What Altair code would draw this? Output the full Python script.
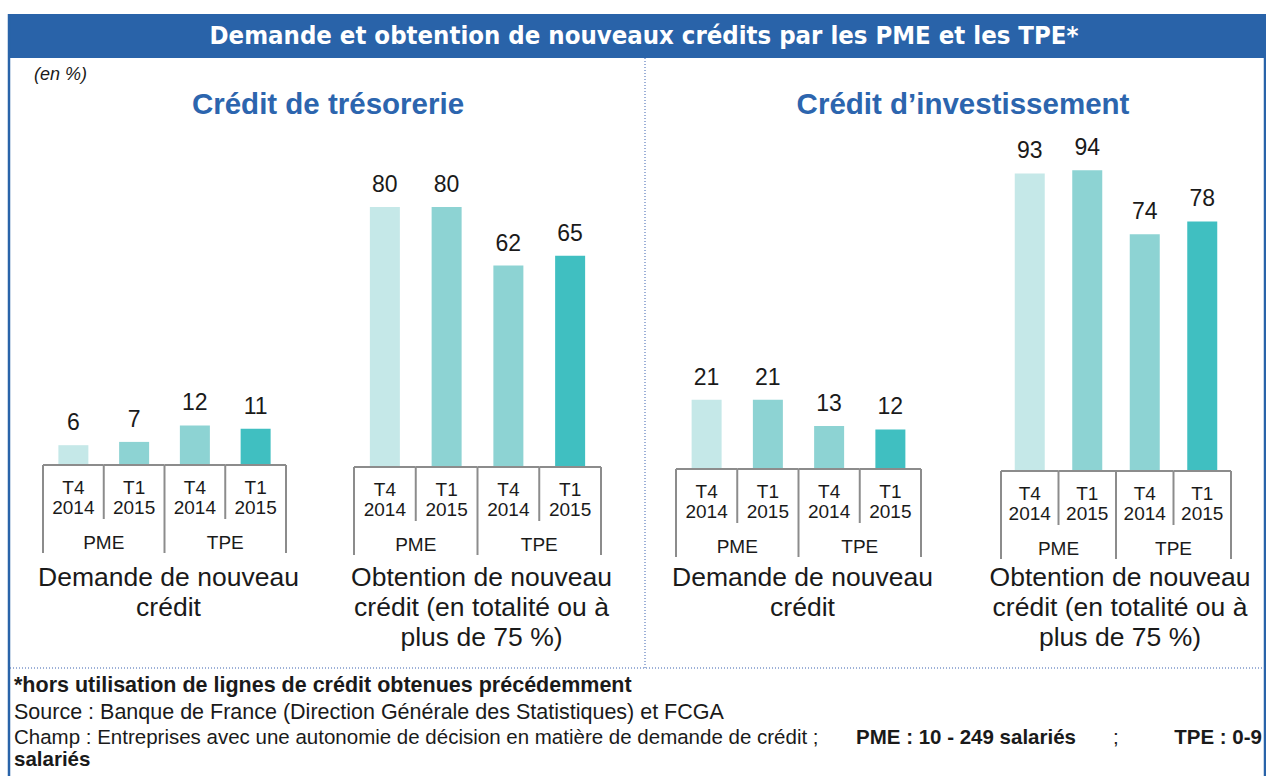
import altair as alt
import pandas as pd

# ---------------- data ----------------
sizes = ["PME", "PME", "TPE", "TPE"]
quarters = ["T4", "T1", "T4", "T1"]
years = ["2014", "2015", "2014", "2015"]

treso_demande = [6, 7, 12, 11]
treso_obtention = [80, 80, 62, 65]
invest_demande = [21, 21, 13, 12]
invest_obtention = [93, 94, 74, 78]

caption_demande = "Demande de nouveau\ncrédit"
caption_obtention = "Obtention de nouveau\ncrédit (en totalité ou à\nplus de 75 %)"

main_title = "Demande et obtention de nouveaux crédits par les PME et les TPE*"
panel_titles = ["Crédit de trésorerie", "Crédit d\u2019investissement"]
unit_note = "(en %)"
foot_bold = "*hors utilisation de lignes de crédit obtenues précédemment"
foot_source = "Source : Banque de France (Direction Générale des Statistiques) et FCGA"
foot_champ_1 = "Champ : Entreprises avec une autonomie de décision en matière de demande de crédit ;"
foot_champ_2 = "PME : 10 - 249 salariés"
foot_champ_3 = ";"
foot_champ_4 = "TPE : 0-9"
foot_champ_5 = "salariés"

# ---------------- styles ----------------
W, H = 1266, 776
BLUE = "#2963A9"
TITLE_BLUE = "#2C65AE"
GRAY = "#8c8c8c"
INK = "#1a1a1a"
FONT = "Liberation Sans"
bar_colors = ["#C5E8E8", "#8DD3D3", "#8DD3D3", "#40BFC1"]

keys = [f"{s}|{q} {y}" for s, q, y in zip(sizes, quarters, years)]
one = pd.DataFrame({"a": [0]})


def deco_text(txt, x, y, **kw):
    return alt.Chart(one).mark_text(text=txt, **kw).encode(x=alt.value(x), y=alt.value(y))


def panel(values, caption, x_range, base, k):
    df = pd.DataFrame({"key": keys, "size": sizes, "q": quarters, "yr": years, "value": values})
    xs = alt.Scale(type="band", domain=keys, range=list(x_range), paddingInner=0, paddingOuter=0)
    ys = alt.Scale(domain=[0, 100], range=[base, base - 100 * k], nice=False, zero=True)
    X = lambda bp=0.5: alt.X("key:N", scale=xs, axis=None, bandPosition=bp)
    Y0 = alt.Y(datum=0, scale=ys, axis=None)

    bars = alt.Chart(df).mark_bar(size=30).encode(
        x=X(),
        y=alt.Y("value:Q", scale=ys, axis=None),
        color=alt.Color("key:N", scale=alt.Scale(domain=keys, range=bar_colors), legend=None),
    )
    vals = alt.Chart(df).mark_text(fontSize=23, font=FONT, color=INK, baseline="alphabetic", dy=-15).encode(
        x=X(), y=alt.Y("value:Q", scale=ys, axis=None), text="value:Q"
    )
    baseline = alt.Chart(df).mark_rule(color=GRAY, strokeWidth=2).encode(
        x=X(0), x2=alt.X2("key:N", bandPosition=1), y=Y0
    )
    full_l = alt.Chart(df[df.q == "T4"]).mark_rule(color=GRAY, strokeWidth=2).encode(
        x=X(0), y=Y0, y2=alt.value(base + 88)
    )
    full_r = alt.Chart(df.iloc[[-1]]).mark_rule(color=GRAY, strokeWidth=2).encode(
        x=X(1), y=Y0, y2=alt.value(base + 88)
    )
    short = alt.Chart(df[df.q == "T1"]).mark_rule(color=GRAY, strokeWidth=2).encode(
        x=X(0), y=Y0, y2=alt.value(base + 54)
    )
    lab = dict(fontSize=19, font=FONT, color=INK, baseline="middle")
    qlab = alt.Chart(df).mark_text(**lab).encode(x=X(), y=alt.value(base + 23), text="q:N")
    ylab = alt.Chart(df).mark_text(**lab).encode(x=X(), y=alt.value(base + 43), text="yr:N")
    glab = alt.Chart(df[df.q == "T4"]).mark_text(**lab).encode(x=X(1), y=alt.value(base + 78), text="size:N")
    cap = alt.Chart(df.iloc[[1]]).mark_text(
        text=caption, lineBreak="\n", lineHeight=30, fontSize=26.5, font=FONT, color=INK,
        baseline="middle", dx=4
    ).encode(x=X(1), y=alt.value(578))
    return alt.layer(bars, vals, baseline, full_l, full_r, short, qlab, ylab, glab, cap)


p1 = panel(treso_demande, caption_demande, (43, 286), 465, 3.3)
p2 = panel(treso_obtention, caption_obtention, (354, 601), 467, 3.25)
p3 = panel(invest_demande, caption_demande, (676, 921), 469, 3.3)
p4 = panel(invest_obtention, caption_obtention, (1001, 1231), 471, 3.2)

header = alt.Chart(one).mark_rect(color=BLUE).encode(
    x=alt.value(8), x2=alt.value(W), y=alt.value(14), y2=alt.value(58)
)
border_l = alt.Chart(one).mark_rule(color=BLUE, strokeWidth=2.5).encode(
    x=alt.value(9), y=alt.value(14), y2=alt.value(H)
)
border_r = alt.Chart(one).mark_rule(color=BLUE, strokeWidth=2.5).encode(
    x=alt.value(W - 1), y=alt.value(14), y2=alt.value(H)
)
vdiv = alt.Chart(one).mark_rule(color="#3a62b0", strokeWidth=1, strokeDash=[1, 2]).encode(
    x=alt.value(645), y=alt.value(58), y2=alt.value(668)
)
hdiv = alt.Chart(one).mark_rule(color="#3a62b0", strokeWidth=1, strokeDash=[1, 2]).encode(
    x=alt.value(10), x2=alt.value(W), y=alt.value(668)
)

title = deco_text(main_title, 644, 36, fontSize=25.5, font="'DejaVu Sans Condensed', 'Liberation Sans', sans-serif",
                  fontWeight="bold", color="white", align="center", baseline="middle")
note = deco_text(unit_note, 34, 75, fontSize=18, font=FONT, fontStyle="italic", color=INK, align="left", baseline="middle")
t1 = deco_text(panel_titles[0], 328, 105, fontSize=29.5, font=FONT, fontWeight="bold", color=TITLE_BLUE,
               align="center", baseline="middle")
t2 = deco_text(panel_titles[1], 963, 105, fontSize=29.5, font=FONT, fontWeight="bold", color=TITLE_BLUE,
               align="center", baseline="middle")

fs = 21.5
f1 = deco_text(foot_bold, 14, 686, fontSize=fs, font=FONT, fontWeight="bold", color=INK, align="left", baseline="middle")
f2 = deco_text(foot_source, 14, 713, fontSize=fs, font=FONT, color=INK, align="left", baseline="middle")
f3 = deco_text(foot_champ_1, 14, 738, fontSize=20.5, font=FONT, color=INK, align="left", baseline="middle")
f4 = deco_text(foot_champ_2, 966, 738, fontSize=20.5, font=FONT, fontWeight="bold", color=INK, align="center", baseline="middle")
f5 = deco_text(foot_champ_3, 1113, 738, fontSize=20.5, font=FONT, color=INK, align="left", baseline="middle")
f6 = deco_text(foot_champ_4, 1262, 738, fontSize=20.5, font=FONT, fontWeight="bold", color=INK, align="right", baseline="middle")
f7 = deco_text(foot_champ_5, 14, 760, fontSize=20.5, font=FONT, fontWeight="bold", color=INK, align="left", baseline="middle")

chart = alt.layer(
    header, border_l, border_r, vdiv, hdiv, title, note, t1, t2,
    p1, p2, p3, p4,
    f1, f2, f3, f4, f5, f6, f7,
).resolve_scale(x="independent", y="independent", color="independent").properties(
    width=W, height=H, autosize=alt.AutoSizeParams(type="none"), padding=0, background="white"
).configure_view(stroke=None)

chart.save("out.html", embed_options={"renderer": "svg", "actions": False})
